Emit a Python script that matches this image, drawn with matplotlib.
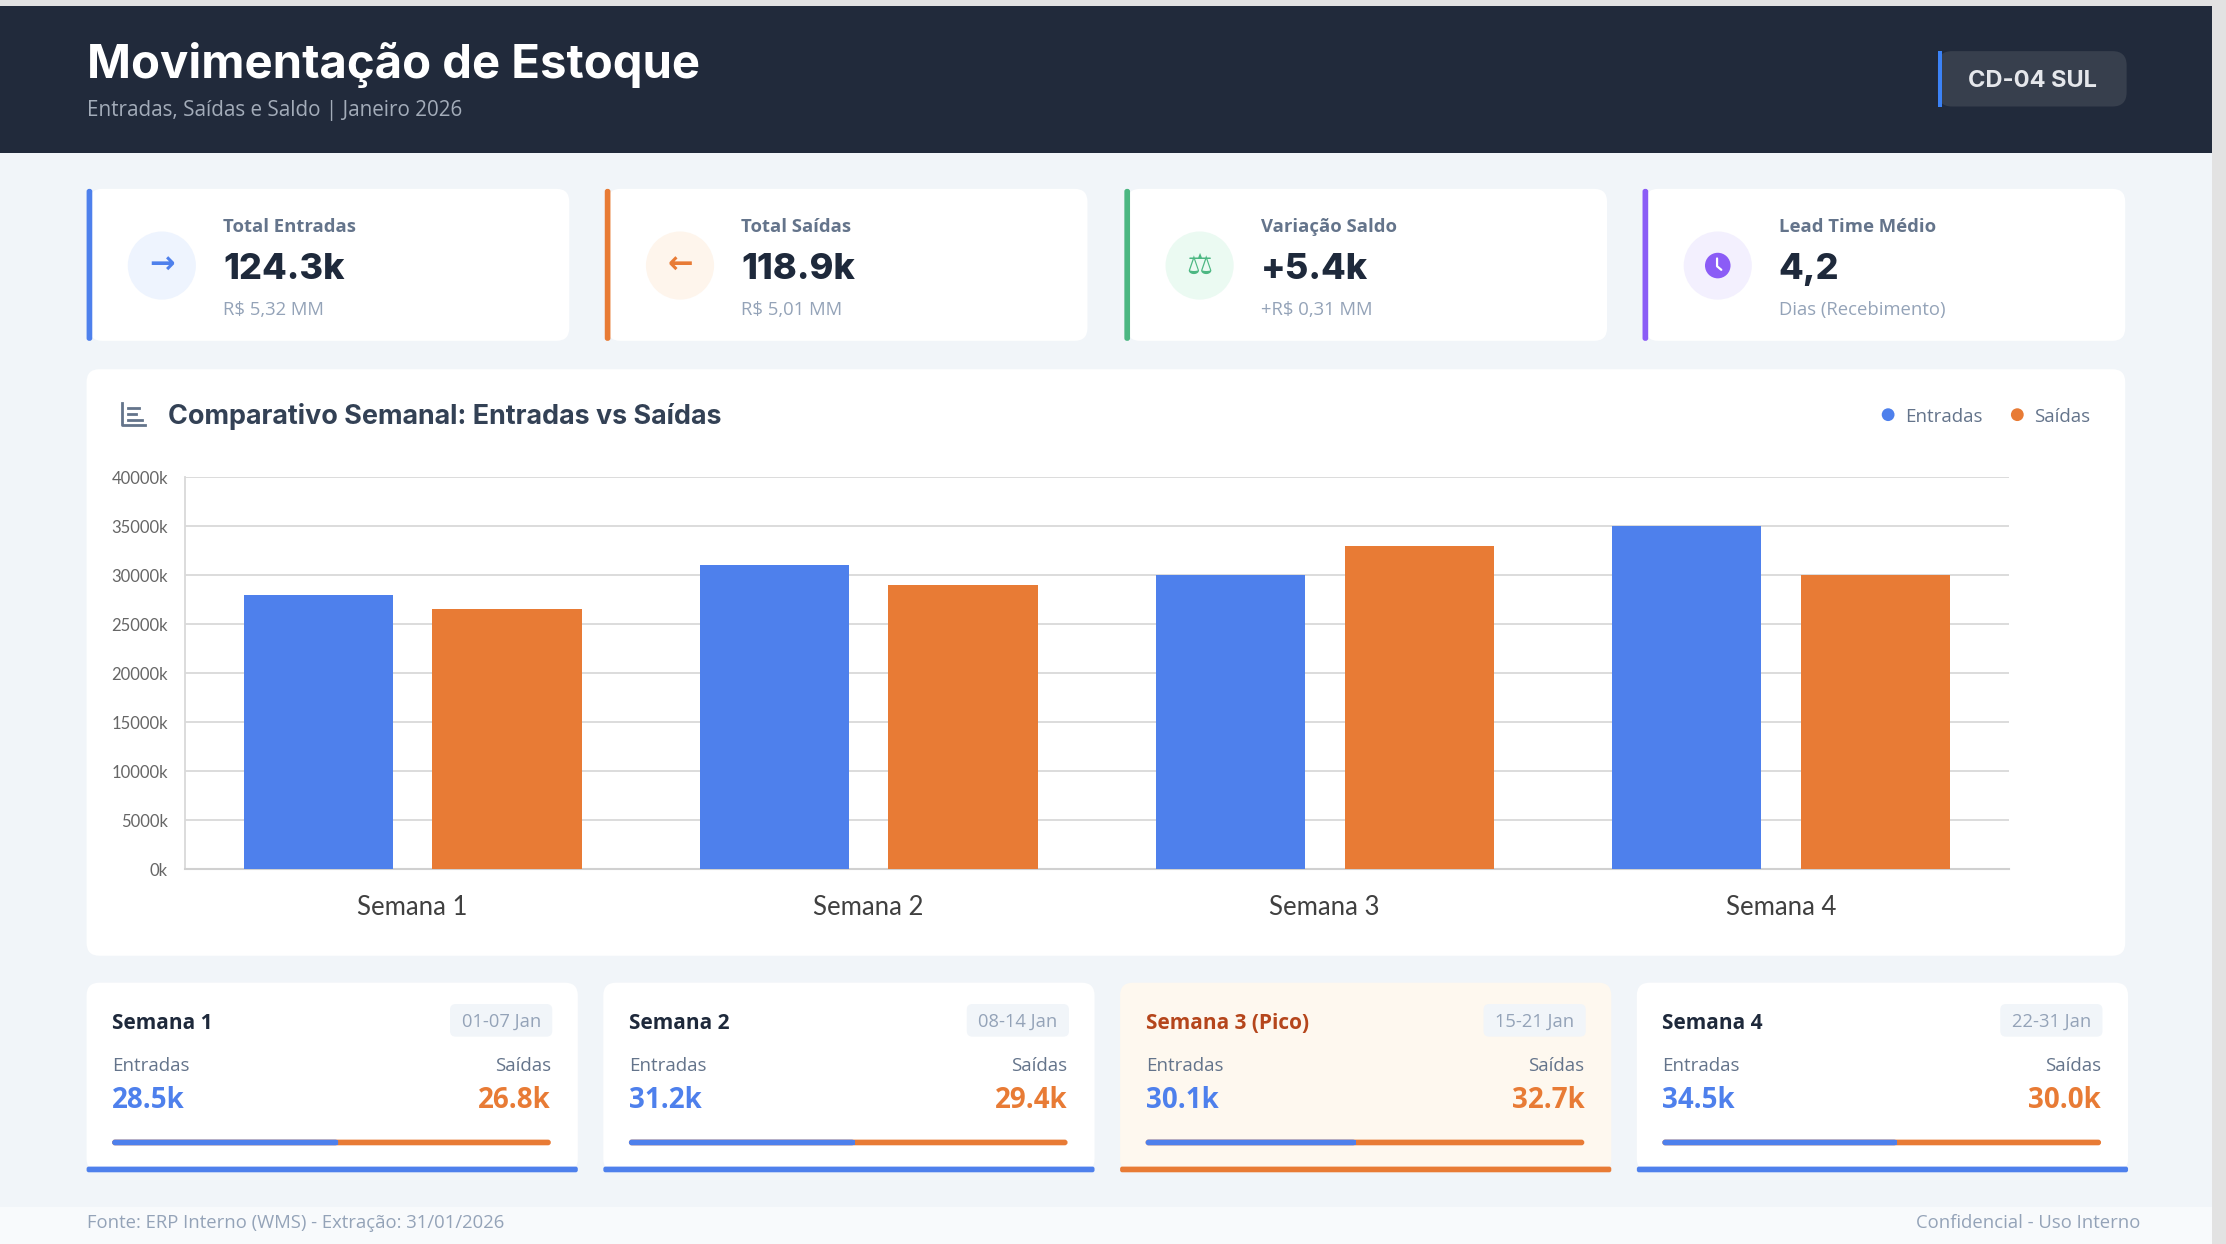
import numpy as np
import matplotlib
matplotlib.use("Agg")
import matplotlib.pyplot as plt
from matplotlib.patches import FancyBboxPatch, Circle, Rectangle
from matplotlib.ticker import FuncFormatter, MultipleLocator

# dados do gráfico
semanas = ["Semana 1", "Semana 2", "Semana 3", "Semana 4"]
entradas_grafico = [28000, 31000, 30000, 35000]
saidas_grafico = [26500, 29000, 33000, 30000]

# indicadores
kpi_titulos = ["Total Entradas", "Total Saídas", "Variação Saldo", "Lead Time Médio"]
kpi_valores = ["124.3k", "118.9k", "+5.4k", "4,2"]
kpi_subtitulos = ["R$ 5,32 MM", "R$ 5,01 MM", "+R$ 0,31 MM", "Dias (Recebimento)"]

# cartões semanais
card_titulos = ["Semana 1", "Semana 2", "Semana 3 (Pico)", "Semana 4"]
card_periodos = ["01-07 Jan", "08-14 Jan", "15-21 Jan", "22-31 Jan"]
card_entradas = [28.5, 31.2, 30.1, 34.5]
card_saidas = [26.8, 29.4, 32.7, 30.0]
card_pico = 2

AZUL = "#4e80ec"
LARANJA = "#e87b35"
VERDE = "#4cb782"
ROXO = "#8b5cf6"
ESCURO = "#1e293b"
CINZA = "#64748b"
CINZA_CLARO = "#94a3b8"

F_TIT = "Inter"
F_TXT = "Open Sans"
F_EIXO = "Lato"

fig = plt.figure(figsize=(22.26, 12.44), dpi=100)
bg = fig.add_axes([0, 0, 1, 1])
bg.set_xlim(0, 1568)
bg.set_ylim(876, 0)
bg.axis("off")
fig.patch.set_facecolor("#f1f5f9")


def caixa(x, y, w, h, cor, r=8, z=1):
    p = FancyBboxPatch((x, y), w, h, boxstyle=f"round,pad=0,rounding_size={r}",
                       fc=cor, ec="none", zorder=z)
    bg.add_patch(p)
    return p


# bordas cinza (janela)
bg.add_patch(Rectangle((0, 0), 1568, 4.5, fc="#e2e2e2", ec="none", zorder=0))
bg.add_patch(Rectangle((1558, 0), 10, 876, fc="#e2e2e2", ec="none", zorder=0))

# cabeçalho
bg.add_patch(Rectangle((0, 4.5), 1558, 103, fc="#212a3b", ec="none", zorder=1))
bg.text(61, 45.5, "Movimentação de Estoque", fontsize=34, fontweight="bold",
        family=F_TIT, color="white", va="center", zorder=3)
bg.text(61, 78, "Entradas, Saídas e Saldo | Janeiro 2026", fontsize=14.9,
        family=F_TXT, color="#a3acb9", va="center", zorder=3)
caixa(1365, 36, 133, 39, "#373f4d", r=10, z=2)
bg.add_patch(Rectangle((1365, 36), 3, 39, fc="#3b82f6", ec="none", zorder=3))
bg.text(1432, 57, "CD-04 SUL", fontsize=17, fontweight="bold", family=F_TIT,
        color="#e5e7eb", ha="center", va="center", zorder=3)

# cartões de indicadores
kpi_x = [61, 426, 792, 1157]
kpi_cores = [AZUL, LARANJA, VERDE, ROXO]
kpi_fundos_icone = ["#eef4fe", "#fef5ec", "#ebfaf2", "#f3f0fe"]
for i, x in enumerate(kpi_x):
    caixa(x + 2, 133, 338, 107, "white", r=9, z=1)
    caixa(x, 133, 4, 107, kpi_cores[i], r=1.8, z=2)
    cx, cy = x + 53, 187
    bg.add_patch(Circle((cx, cy), 24, fc=kpi_fundos_icone[i], ec="none", zorder=2))
    if i == 0:
        bg.text(cx, cy, "→", fontsize=22, fontweight="bold", family="DejaVu Sans",
                color=AZUL, ha="center", va="center", zorder=3)
    elif i == 1:
        bg.text(cx, cy, "←", fontsize=22, fontweight="bold", family="DejaVu Sans",
                color=LARANJA, ha="center", va="center", zorder=3)
    elif i == 2:
        bg.text(cx, cy, "⚖", fontsize=21, family="DejaVu Sans", color=VERDE,
                ha="center", va="center", zorder=3)
    else:
        bg.add_patch(Circle((cx, cy), 9, fc=ROXO, ec="none", zorder=3))
        bg.plot([cx - 0.5, cx - 0.5, cx + 2.5], [cy - 5, cy + 0.5, cy + 3],
                color="white", lw=1.6, zorder=4, solid_capstyle="round")
    bg.text(x + 96, 159.5, kpi_titulos[i], fontsize=13.3, fontweight="bold",
            family=F_TXT, color=CINZA, va="center", zorder=3)
    bg.text(x + 96, 189.5, kpi_valores[i], fontsize=26, fontweight="heavy",
            family=F_TIT, color=ESCURO, va="center", zorder=3)
    bg.text(x + 96, 218.5, kpi_subtitulos[i], fontsize=13.3, family=F_TXT,
            color=CINZA_CLARO, va="center", zorder=3)

# painel do gráfico
caixa(61, 260, 1436, 413, "white", r=9, z=1)
ic = "#64748b"
bg.plot([86, 86, 102], [284, 299, 299], color=ic, lw=2, zorder=3)
bg.plot([90, 98], [287, 287], color=ic, lw=2, zorder=3)
bg.plot([90, 96], [291.5, 291.5], color=ic, lw=2, zorder=3)
bg.plot([90, 100], [295.5, 295.5], color=ic, lw=2, zorder=3)
bg.text(118, 293.5, "Comparativo Semanal: Entradas vs Saídas", fontsize=19.4,
        fontweight="bold", family=F_TIT, color="#334155", va="center", zorder=3)
bg.add_patch(Circle((1330, 292), 4.5, fc=AZUL, ec="none", zorder=3))
bg.text(1342, 293.5, "Entradas", fontsize=13.5, family=F_TXT, color=CINZA,
        va="center", zorder=3)
bg.add_patch(Circle((1421, 292), 4.5, fc=LARANJA, ec="none", zorder=3))
bg.text(1433, 293.5, "Saídas", fontsize=13.5, family=F_TXT, color=CINZA,
        va="center", zorder=3)

ax = fig.add_axes([130 / 1568, 1 - 612 / 876, (1415 - 130) / 1568, (612 - 336) / 876])
ax.set_facecolor("white")
x = np.arange(len(semanas))
ax.bar(x - 0.207, entradas_grafico, width=0.327, color=AZUL, zorder=3)
ax.bar(x + 0.207, saidas_grafico, width=0.327, color=LARANJA, zorder=3)
ax.set_xlim(-0.5, 3.5)
ax.set_ylim(0, 40000)
ax.yaxis.set_major_locator(MultipleLocator(5000))
ax.yaxis.set_major_formatter(FuncFormatter(lambda v, p: f"{v:.0f}k"))
ax.set_xticks(x)
ax.set_xticklabels(semanas)
ax.grid(axis="y", color="#d9d9d9", lw=1.3)
ax.set_axisbelow(True)
for lado in ["top", "right"]:
    ax.spines[lado].set_visible(False)
ax.spines["left"].set_color("#d9d9d9")
ax.spines["bottom"].set_color("#d0d0d0")
ax.spines["left"].set_linewidth(1.3)
ax.spines["bottom"].set_linewidth(1.5)
ax.tick_params(axis="y", length=0, pad=12, labelsize=12, labelcolor="#666666")
ax.tick_params(axis="x", length=0, pad=19, labelsize=18.5, labelcolor="#404040")
for t in ax.get_xticklabels() + ax.get_yticklabels():
    t.set_family(F_EIXO)

# cartões semanais
card_x = [61, 425, 789, 1153]
for i, x0 in enumerate(card_x):
    pico = i == card_pico
    caixa(x0, 692, 346, 133, "#fef8ef" if pico else "white", r=9, z=1)
    caixa(x0, 821.5, 346, 4, LARANJA if pico else AZUL, r=1.5, z=2)
    bg.text(x0 + 18, 721, card_titulos[i], fontsize=15, fontweight="bold",
            family=F_TXT, color="#b5461c" if pico else ESCURO, va="center", zorder=3)
    caixa(x0 + 256, 707, 72, 23, "#f1f5f9", r=4, z=2)
    bg.text(x0 + 292, 719.5, card_periodos[i], fontsize=13.2, family=F_TXT,
            color=CINZA_CLARO, ha="center", va="center", zorder=3)
    bg.text(x0 + 18, 750.5, "Entradas", fontsize=13.5, family=F_TXT, color=CINZA,
            va="center", zorder=3)
    bg.text(x0 + 327, 750.5, "Saídas", fontsize=13.5, family=F_TXT, color=CINZA,
            ha="right", va="center", zorder=3)
    bg.text(x0 + 18, 775, f"{card_entradas[i]:.1f}k", fontsize=20, fontweight="bold",
            family=F_TXT, color=AZUL, va="center", zorder=3)
    bg.text(x0 + 327, 775, f"{card_saidas[i]:.1f}k", fontsize=20, fontweight="bold",
            family=F_TXT, color=LARANJA, ha="right", va="center", zorder=3)
    larg = 309
    frac = card_entradas[i] / (card_entradas[i] + card_saidas[i])
    caixa(x0 + 18, 802.5, larg, 4, LARANJA, r=2, z=2)
    caixa(x0 + 18, 802.5, larg * frac, 4, AZUL, r=2, z=3)
    bg.add_patch(Rectangle((x0 + 18 + larg * frac - 3, 802.5), 3, 4, fc=AZUL,
                           ec="none", zorder=3))

# rodapé
bg.add_patch(Rectangle((0, 850), 1558, 26, fc="#f8fafc", ec="none", zorder=1))
bg.text(61, 861, "Fonte: ERP Interno (WMS) - Extração: 31/01/2026", fontsize=13.3,
        family=F_TXT, color=CINZA_CLARO, va="center", zorder=3)
bg.text(1508, 861, "Confidencial - Uso Interno", fontsize=13.3, family=F_TXT,
        color=CINZA_CLARO, ha="right", va="center", zorder=3)

fig.savefig("out.png", dpi=100, facecolor=fig.get_facecolor())
